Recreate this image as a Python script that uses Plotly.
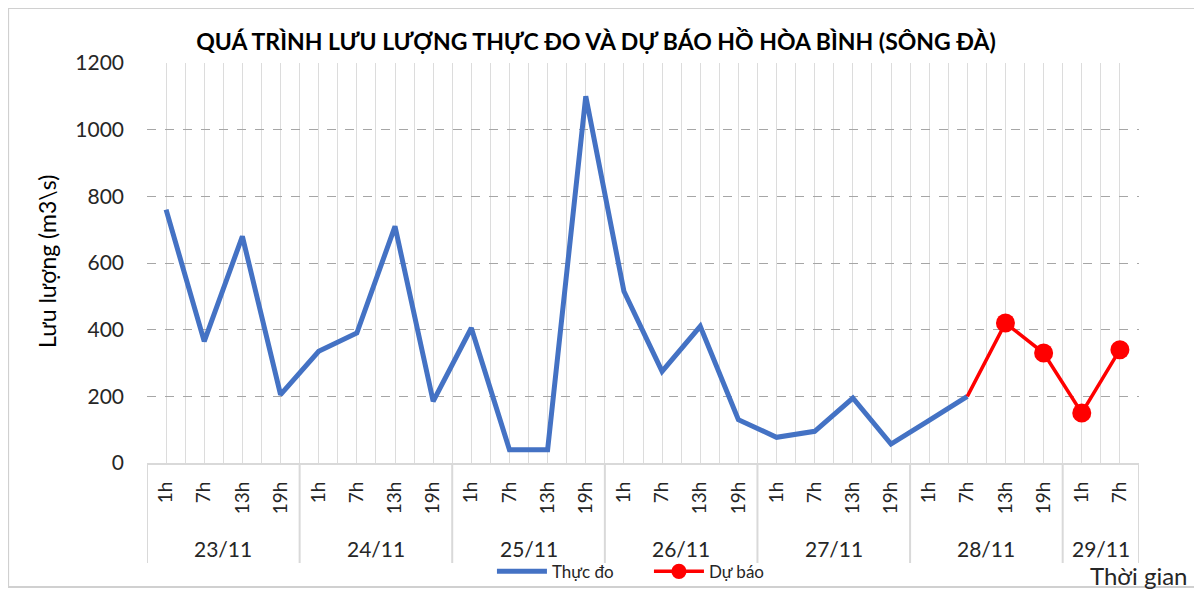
import plotly.graph_objects as go

# ---- data ----
dates = ["23/11", "24/11", "25/11", "26/11", "27/11", "28/11", "29/11"]
hours_by_date = [
    ["1h", "7h", "13h", "19h"],
    ["1h", "7h", "13h", "19h"],
    ["1h", "7h", "13h", "19h"],
    ["1h", "7h", "13h", "19h"],
    ["1h", "7h", "13h", "19h"],
    ["1h", "7h", "13h", "19h"],
    ["1h", "7h"],
]
hour_labels = [h for grp in hours_by_date for h in grp]

observed = [760, 365, 680, 205, 335, 390, 710, 185, 405, 40, 40, 1100,
            515, 275, 410, 130, 77, 95, 195, 57, 128, 200]
forecast = [None] * 21 + [200, 420, 330, 150, 340]

title_text = "QUÁ TRÌNH LƯU LƯỢNG THỰC ĐO VÀ DỰ BÁO HỒ HÒA BÌNH (SÔNG ĐÀ)"
y_title = "Lưu lượng (m3\\s)"
x_title = "Thời gian"

FONT = "Lato"
n = len(hour_labels)
xs = list(range(n))

fig = go.Figure()
fig.add_trace(go.Scatter(
    x=xs[:len(observed)], y=observed, mode="lines", name="Thực đo",
    line=dict(color="#4472C4", width=5),
))
msize = [0 if (i == 0) else 19 for i in range(len(forecast) - 21)]
fig.add_trace(go.Scatter(
    x=xs[21:], y=forecast[21:], mode="lines+markers", name="Dự báo",
    line=dict(color="#FF0000", width=3.5),
    marker=dict(color="#FF0000", size=msize, opacity=1, line=dict(width=0)),
))

# group boundaries and date labels
shapes = []
annotations = []
start = 0
for d, grp in zip(dates, hours_by_date):
    end = start + len(grp)
    annotations.append(dict(
        x=(start + end - 1) / 2, y=-0.2125, xref="x", yref="paper",
        text=d, showarrow=False, font=dict(family=FONT, size=21, color="#262626"),
        yanchor="middle", xanchor="center"))
    shapes.append(dict(type="line", xref="x", yref="paper",
                       x0=start - 0.5, x1=start - 0.5, y0=0, y1=-0.25,
                       line=dict(color="#d9d9d9", width=2)))
    start = end
shapes.append(dict(type="line", xref="x", yref="paper",
                   x0=start - 0.5, x1=start - 0.5, y0=0, y1=-0.25,
                   line=dict(color="#d9d9d9", width=2)))
# outer chart border
shapes.append(dict(type="rect", xref="paper", yref="paper",
                   x0=-0.140, x1=1.0595, y0=-0.31, y1=1.1375,
                   line=dict(color="#d0d0d0", width=2), layer="below"))

annotations.append(dict(
    x=-0.1008, y=0.5025, xref="paper", yref="paper", text=y_title, textangle=-90,
    showarrow=False, font=dict(family=FONT, size=23, color="#000000"),
    xanchor="center", yanchor="middle"))
annotations.append(dict(
    x=0.9995, y=-0.28, xref="paper", yref="paper", text=x_title,
    showarrow=False, font=dict(family=FONT, size=24, color="#262626"),
    xanchor="center", yanchor="middle"))

# the page adds an 8px body margin, so the figure is drawn 8px smaller and up-left
fig.update_layout(
    width=1194, height=581,
    margin=dict(l=139, r=63, t=55, b=126, autoexpand=False),
    paper_bgcolor="white", plot_bgcolor="white",
    font=dict(family=FONT, color="#262626"),
    title=dict(text="<b>" + title_text + "</b>", x=0.4925, xanchor="center",
               y=0.9415, yanchor="middle",
               font=dict(family=FONT, size=23, color="#000000")),
    showlegend=True,
    legend=dict(orientation="h", x=0.506, xanchor="center", y=-0.272,
                yanchor="middle", font=dict(family=FONT, size=17, color="#262626"),
                bgcolor="rgba(0,0,0,0)", itemwidth=50, tracegroupgap=0,
                entrywidth=92, entrywidthmode="pixels"),
    shapes=shapes,
    annotations=annotations,
)

fig.update_xaxes(
    range=[-0.5, n - 0.5], automargin=False,
    tickmode="array", tickvals=xs, ticktext=hour_labels, tickangle=-90,
    tickfont=dict(family=FONT, size=19, color="#262626"),
    ticks="", ticklabelstandoff=9,
    showgrid=True, gridcolor="#dcdcdc", gridwidth=1,
    minor=dict(tickmode="array", tickvals=[i - 0.5 for i in range(n + 1)],
               showgrid=True, gridcolor="#dcdcdc", gridwidth=1, ticks=""),
    showline=True, linecolor="#d9d9d9", linewidth=2,
    zeroline=False,
)
fig.update_yaxes(
    range=[0, 1200], dtick=200, tick0=0, automargin=False,
    tickfont=dict(family=FONT, size=21, color="#262626"),
    ticks="", ticklabelstandoff=22,
    showgrid=True, gridcolor="#a6a6a6", griddash="dash", gridwidth=1,
    zeroline=False, showline=False,
)

fig.write_html("out.html")
